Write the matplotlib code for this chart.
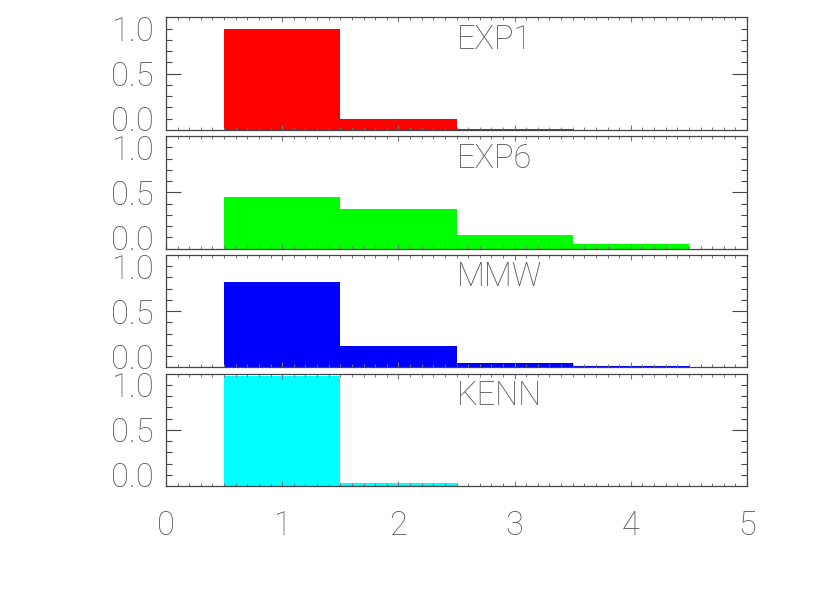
import matplotlib
matplotlib.use("Agg")
import matplotlib.pyplot as plt
import numpy as np

# ── Data ─────────────────────────────────────────────────────────
bin_centers = [1, 2, 3, 4]
names = ["EXP1", "EXP6", "MMW", "KENN"]
colors = ["#ff0000", "#00ff00", "#0000ff", "#00ffff"]
# bar heights measured from the panel floor (axis units)
exp1 = [1.127, 0.123, 0.010, 0.0]
exp6 = [0.580, 0.440, 0.150, 0.052]
mmw = [0.949, 0.234, 0.045, 0.018]
kenn = [1.228, 0.030, 0.0, 0.0]
series = [exp1, exp6, mmw, kenn]

ytick_pos = [0.125, 0.625, 1.125]
ytick_labels = ["0.0", "0.5", "1.0"]
xtick_pos = [0, 1, 2, 3, 4, 5]
xtick_labels = ["0", "1", "2", "3", "4", "5"]

# ── Styling ──────────────────────────────────────────────────────
TEXT = "#5a5a5a"
FRAME = "#444444"
FS = 23.5
plt.rcParams.update({
    "font.family": ["Roboto", "DejaVu Sans"],
    "font.weight": "light",
})

fig = plt.figure(figsize=(8.3, 5.93), dpi=100)
LEFT, WIDTH, HEIGHT = 0.200, 0.700, 0.1897
bottoms = [0.7808, 0.5806, 0.3806, 0.1804]

for i, (name, vals, col, b) in enumerate(zip(names, series, colors, bottoms)):
    ax = fig.add_axes([LEFT, b, WIDTH, HEIGHT])
    ax.bar(bin_centers, vals, width=1.0, color=col, edgecolor="none")
    ax.set_xlim(0, 5)
    ax.set_ylim(0, 1.25)

    for s in ax.spines.values():
        s.set_color(FRAME)
        s.set_linewidth(0.9)

    ax.set_yticks(ytick_pos)
    ax.set_yticklabels(ytick_labels, fontsize=FS, color=TEXT)
    ax.set_yticks(np.arange(0.125, 1.2, 0.125), minor=True)
    ax.tick_params(axis="y", which="both", direction="in", left=True, right=True,
                   length=4.5, width=0.8, color=FRAME, pad=9)
    # only the 0.5 tick is long
    mid = ax.yaxis.get_major_ticks()[1]
    mid.tick1line.set_markersize(11)
    mid.tick2line.set_markersize(11)

    ax.set_xticks(xtick_pos)
    ax.set_xticks(np.arange(0, 5.01, 0.1), minor=True)
    ax.tick_params(axis="x", which="major", direction="in", top=True, bottom=True,
                   length=3.5, width=0.8, color="#777777")
    ax.tick_params(axis="x", which="minor", direction="in", top=True, bottom=True,
                   length=2, width=0.7, color="#777777")
    if i == len(names) - 1:
        ax.set_xticklabels(xtick_labels, fontsize=FS, color=TEXT)
        ax.tick_params(axis="x", which="major", pad=17)
    else:
        ax.set_xticklabels([])

    ax.text(2.5, 0.8, name, transform=ax.get_xaxis_transform(),
            fontsize=FS, color=TEXT, va="center", ha="left")

fig.savefig("out.png", dpi=100)
